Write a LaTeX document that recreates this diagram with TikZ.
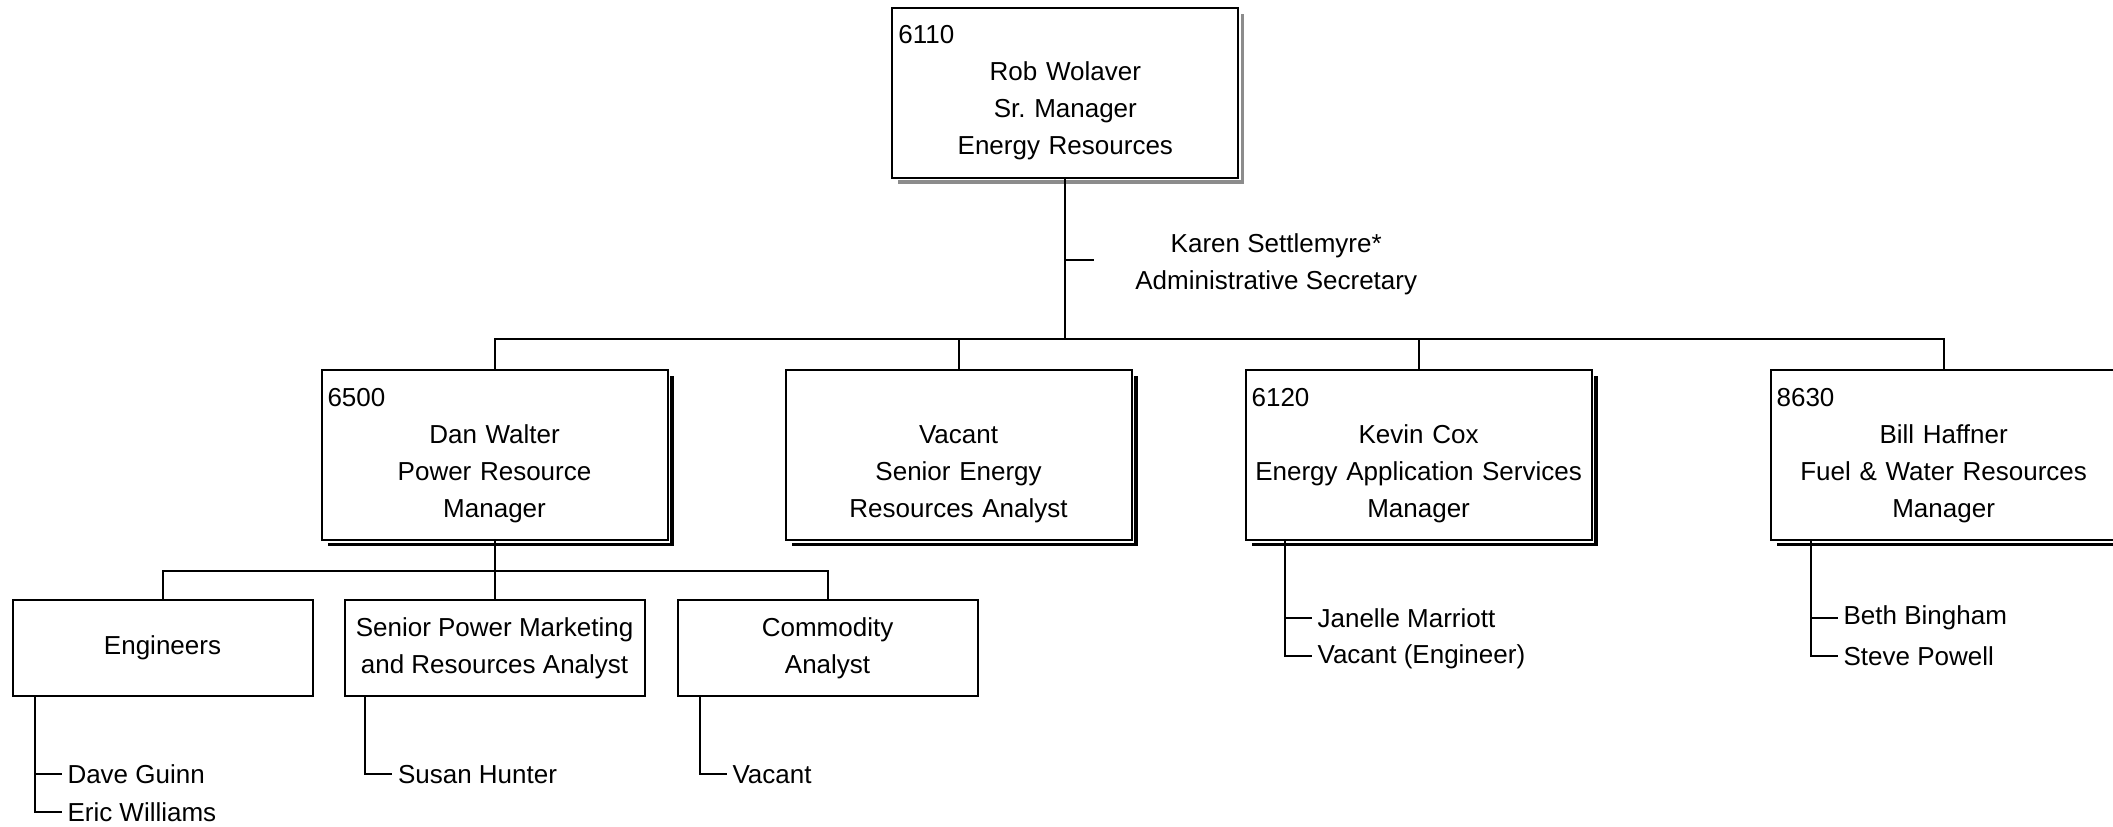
\documentclass[tikz,border=0pt]{standalone}
\usepackage{fontspec}
\setmainfont{Liberation Sans}
\usetikzlibrary{positioning,shadows}
\frenchspacing
\newcommand{\orgcode}[1]{\makebox[\hsize][l]{#1\vphantom{0}}}
\begin{document}
\begin{tikzpicture}[line width=1pt,
				every node/.style={font=\fontsize{13}{18.5}\selectfont},
				boxbase/.style={draw,fill=white,align=center,text width=167pt,inner xsep=3pt,minimum height=85pt},
				head/.style={boxbase,drop shadow={shadow xshift=3pt,shadow yshift=-3pt,opacity=1,fill=black!45},preaction={draw=white,line width=2.5pt}},
				mgr/.style={boxbase,drop shadow={shadow xshift=3pt,shadow yshift=-3pt,opacity=1,fill=black},preaction={draw=white,line width=2.5pt}},
				unit/.style={draw,align=center,minimum width=150pt,minimum height=48pt},
				member/.style={anchor=west,inner sep=2.5pt},
				sec/.style={align=center,inner sep=0pt}]
\useasboundingbox (0,0) rectangle (37.13,-14.53);
\node[head] (root) at (18.72,-1.63) {\orgcode{6110}\\Rob Wolaver\\Sr. Manager\\Energy Resources};
\node[mgr] (dan) at (8.69,-8.00) {\orgcode{6500}\\Dan Walter\\Power Resource\\Manager};
\node[mgr,right=58pt of dan] (vac) {\orgcode{}\\Vacant\\Senior Energy\\Resources Analyst};
\node[mgr,right=56pt of vac] (kevin) {\orgcode{6120}\\Kevin Cox\\Energy Application Services\\Manager};
\node[mgr,right=88.5pt of kevin] (bill) {\orgcode{8630}\\Bill Haffner\\Fuel \& Water Resources\\Manager};
\node[unit,below=29pt of dan] (spm) {Senior Power Marketing\\and Resources Analyst};
\node[unit,left=15pt of spm] (eng) {Engineers};
\node[unit,right=15.5pt of spm] (comm) {Commodity\\Analyst};

\coordinate (bus) at ([yshift=-80pt]root.south);
\coordinate (sectick) at ([shift={(14.5pt,-40.5pt)}]root.south);
\node[sec,right=20pt of sectick,yshift=-2.5pt] (sec) {Karen Settlemyre*\\Administrative Secretary};
\draw (root.south) -- (bus);
\draw (root.south |- sectick) -- (sectick);
\draw (dan.north) |- (bus) -| (bill.north);
\draw (vac.north) -- (vac.north |- bus);
\draw (kevin.north) -- (kevin.north |- bus);

\coordinate (dansplit) at ([yshift=-15pt]dan.south);
\draw (dan.south) -- (dansplit);
\draw (eng.north) |- (dansplit) -| (comm.north);
\draw (spm.north) -- (dansplit);

\coordinate (engbar) at ([xshift=11.5pt]eng.south west);
\node[member] (dave) at ([shift={(13.5pt,-38.5pt)}]engbar) {Dave Guinn};
\node[member] (eric) at ([yshift=-19pt]dave.west) {Eric Williams};
\draw (engbar) |- (eric.west);
\draw (engbar |- dave.west) -- (dave.west);

\coordinate (spmbar) at ([xshift=10.75pt]spm.south west);
\node[member] (susan) at ([shift={(13.5pt,-38.5pt)}]spmbar) {Susan Hunter};
\draw (spmbar) |- (susan.west);

\coordinate (commbar) at ([xshift=11.5pt]comm.south west);
\node[member] (commvac) at ([shift={(13.5pt,-38.5pt)}]commbar) {Vacant};
\draw (commbar) |- (commvac.west);

\coordinate (kevinbar) at ([xshift=20pt]kevin.south west);
\node[member] (janelle) at ([shift={(13.5pt,-38.5pt)}]kevinbar) {Janelle Marriott};
\node[member] (kevinvac) at ([yshift=-19pt]janelle.west) {Vacant (Engineer)};
\draw (kevinbar) |- (kevinvac.west);
\draw (kevinbar |- janelle.west) -- (janelle.west);

\coordinate (billbar) at ([xshift=20.5pt]bill.south west);
\node[member] (beth) at ([shift={(13.5pt,-38.5pt)}]billbar) {Beth Bingham};
\node[member] (steve) at ([yshift=-19pt]beth.west) {Steve Powell};
\draw (billbar) |- (steve.west);
\draw (billbar |- beth.west) -- (beth.west);
\end{tikzpicture}
\end{document}
